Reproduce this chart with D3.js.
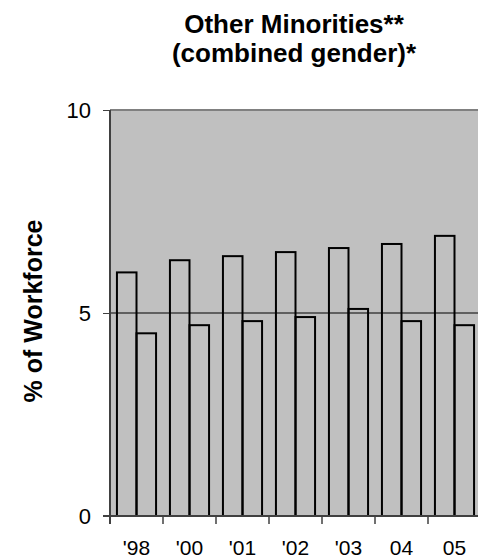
<!DOCTYPE html>
<html><head><meta charset="utf-8">
<script src="https://cdn.jsdelivr.net/npm/d3@7"></script>
<style>body{margin:0;background:#fff}svg{display:block}</style>
</head><body>
<script>
const categories = ["'98","'00","'01","'02","'03","04","05"];
const seriesA = [6.0,6.3,6.4,6.5,6.6,6.7,6.9];
const seriesB = [4.5,4.7,4.8,4.9,5.1,4.8,4.7];
const yTicks = [0,5,10];
const titleLines = ["Other Minorities**","(combined gender)*"];
const yTitle = "% of Workforce";

(function(){
const W=478,H=558;
const svg=d3.select("body").append("svg").attr("width",W).attr("height",H);
const pL=110, pR=481, pT=110, pB=516;
const x=d3.scaleBand().domain(categories).range([pL,pR]).paddingInner(0).paddingOuter(0);
const y=d3.scaleLinear().domain([0,10]).range([pB,pT]);
const font="Liberation Sans, Arial, sans-serif";

svg.append("rect").attr("x",pL).attr("y",pT).attr("width",pR-pL).attr("height",pB-pT).attr("fill","#c0c0c0");
svg.append("line").attr("x1",pL).attr("x2",pR).attr("y1",y(10)).attr("y2",y(10)).attr("stroke","#808080").attr("stroke-width",2);
svg.append("line").attr("x1",pL).attr("x2",pR).attr("y1",y(5)).attr("y2",y(5)).attr("stroke","#000").attr("stroke-width",1);

const inner=d3.scaleBand().domain([0,1]).range([0,x.bandwidth()]).paddingOuter(0.355).paddingInner(0);
const g=svg.append("g");
categories.forEach((c,i)=>{
  [seriesA[i],seriesB[i]].forEach((v,j)=>{
    g.append("rect").attr("x",x(c)+inner(j)).attr("y",y(v)).attr("width",inner.bandwidth()).attr("height",y(0)-y(v))
     .attr("fill","none").attr("stroke","#000").attr("stroke-width",2);
  });
});

const ya=svg.append("g").attr("transform",`translate(${pL},0)`).call(d3.axisLeft(y).tickValues(yTicks).tickSize(7).tickPadding(12));
ya.select(".domain").attr("stroke","#404040").attr("stroke-width",2).attr("d",`M0,${pT}V${pB+8}`);
ya.selectAll(".tick line").attr("stroke","#404040").attr("stroke-width",1);
ya.selectAll("text").attr("font-family",font).attr("font-size",22).attr("fill","#000");

const xa=svg.append("g").attr("transform",`translate(0,${pB})`).call(d3.axisBottom(x).tickSize(0).tickPadding(24));
xa.select(".domain").attr("stroke","#404040").attr("stroke-width",2).attr("d",`M${pL-7},0H${pR}`);
xa.selectAll("text").attr("font-family",font).attr("font-size",21).attr("fill","#000");
const edges=d3.range(categories.length+1).map(i=>pL+i*x.step());
svg.append("g").selectAll("line").data(edges).join("line")
  .attr("x1",d=>d).attr("x2",d=>d).attr("y1",pB).attr("y2",pB+8).attr("stroke","#404040").attr("stroke-width",1.5);

svg.append("text").attr("font-family",font).attr("font-weight","bold").attr("font-size",26).attr("text-anchor","middle")
  .selectAll("tspan").data(titleLines).join("tspan").attr("x",294).attr("y",(d,i)=>33+i*29).text(d=>d);

svg.append("text").attr("font-family",font).attr("font-weight","bold").attr("font-size",25).attr("text-anchor","middle")
  .attr("transform","translate(42,311) rotate(-90)").text(yTitle);
})();
</script>
</body></html>
